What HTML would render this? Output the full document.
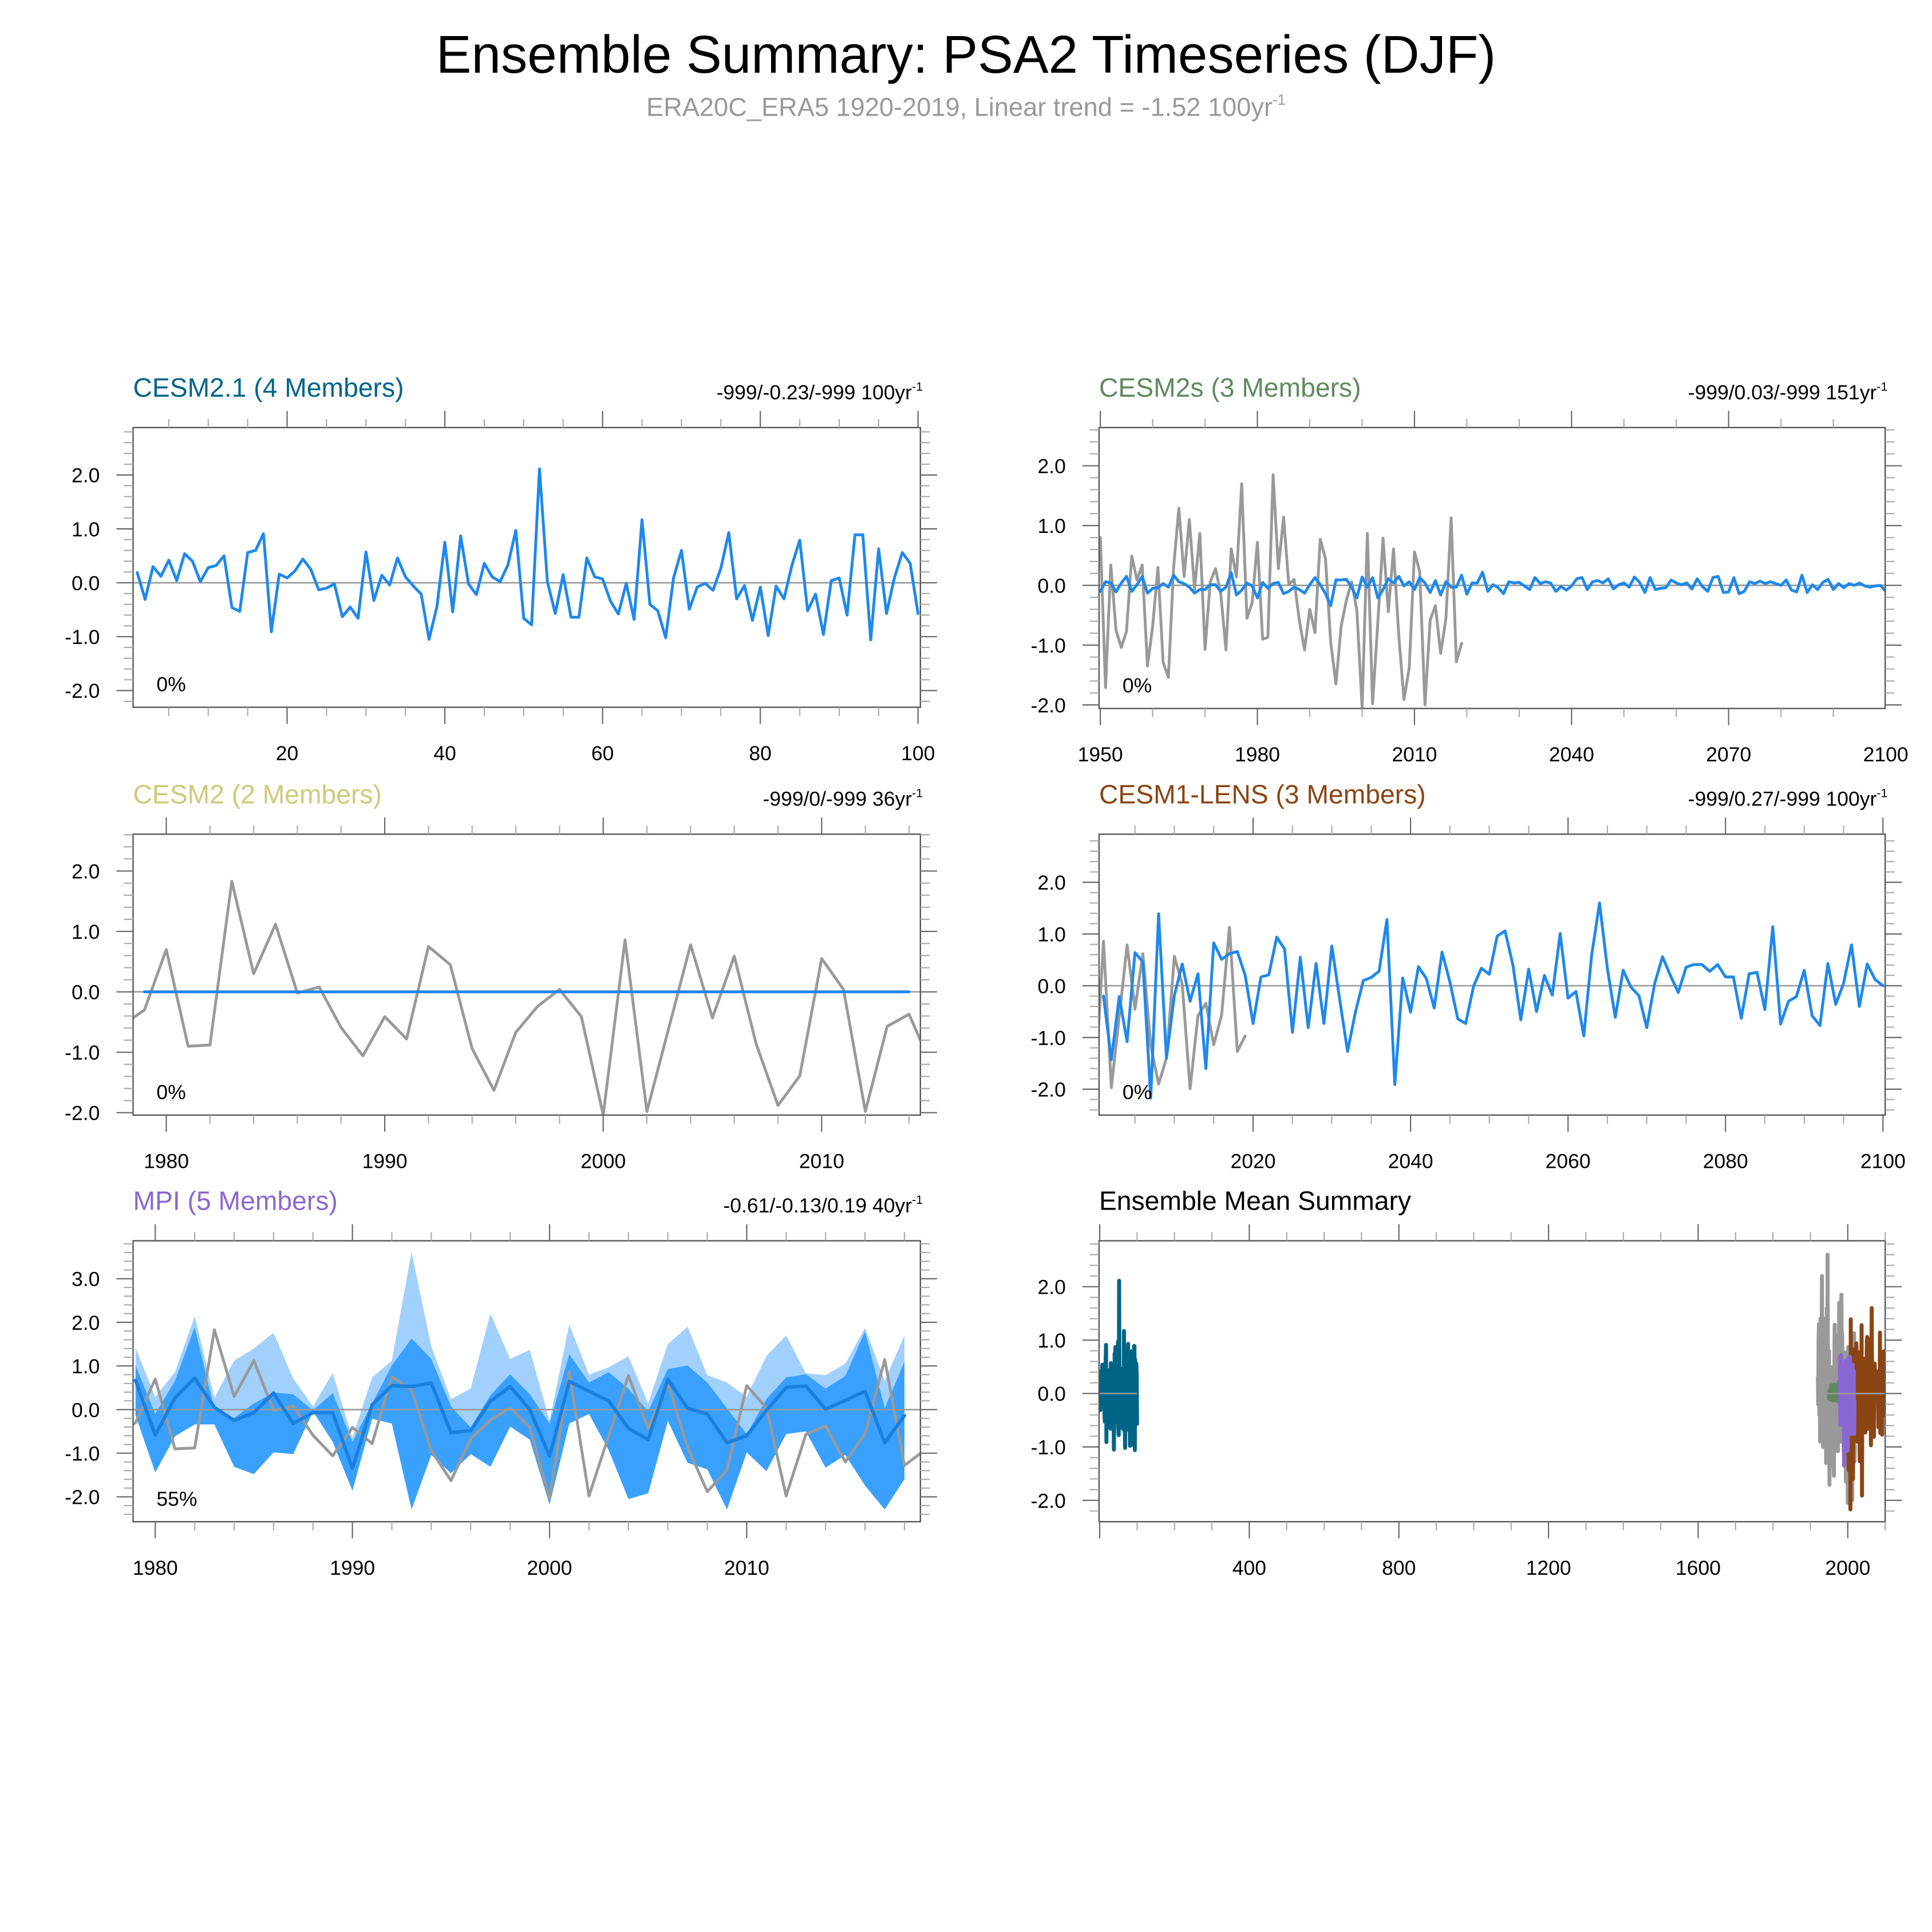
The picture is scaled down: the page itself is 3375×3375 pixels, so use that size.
<!DOCTYPE html>
<html><head><meta charset="utf-8">
<style>
html,body{margin:0;padding:0;background:#fff;}
svg{display:block;font-family:"Liberation Sans",Arial,sans-serif;}
</style></head>
<body>
<svg id="chart" xmlns="http://www.w3.org/2000/svg" width="3375" height="3375" viewBox="0 0 1568 1568">
<rect x="0" y="0" width="1568" height="1568" fill="#fff"/>
<text x="784" y="59" font-size="43" text-anchor="middle" fill="#000">Ensemble Summary: PSA2 Timeseries (DJF)</text>
<text x="784" y="94" font-size="21" text-anchor="middle" fill="#999">ERA20C_ERA5 1920-2019, Linear trend = -1.52 100yr<tspan dy="-9" font-size="12">-1</tspan></text>
</svg>
<script>
// ---------- DATA ----------
const cesm21Start = 1;
const cesm21Mean = [0.19,-0.31,0.30,0.12,0.42,0.04,0.54,0.40,0.02,0.28,0.32,0.50,-0.46,-0.53,0.56,0.60,0.91,-0.91,0.16,0.09,0.22,0.44,0.25,-0.13,-0.10,-0.02,-0.63,-0.45,-0.66,0.57,-0.33,0.14,-0.04,0.46,0.11,-0.06,-0.21,-1.05,-0.44,0.75,-0.54,0.87,-0.02,-0.22,0.36,0.11,0.02,0.33,0.97,-0.66,-0.78,2.11,0.02,-0.57,0.15,-0.64,-0.64,0.46,0.11,0.07,-0.34,-0.58,-0.01,-0.68,1.17,-0.40,-0.52,-1.02,0.09,0.60,-0.49,-0.08,-0.01,-0.14,0.27,0.93,-0.30,-0.05,-0.70,-0.08,-0.98,-0.06,-0.30,0.32,0.79,-0.52,-0.21,-0.96,0.04,0.09,-0.60,0.89,0.89,-1.06,0.63,-0.57,0.09,0.56,0.36,-0.57];

const obsEarlyStart = 1920;
const obsEarly = [0.3,-0.2,1.0,1.3,-0.4,0.6,-0.9,1.4,0.2,-0.6,0.9,2.2,-0.3,1.1,-1.0,0.5,1.4,-0.7,0.4,1.0,-0.2,0.8,-1.3,0.3,1.6,-0.5,2.6,0.1,-0.8,0.7];
const obs1950Start = 1950;
const obs1950 = [0.80,-1.71,0.34,-0.75,-1.04,-0.77,0.49,0.09,0.34,-1.35,-0.68,0.30,-1.29,-1.54,0.30,1.29,0.15,1.10,-0.07,0.87,-1.07,0.06,0.28,-0.14,-1.08,0.61,0.14,1.70,-0.55,-0.29,0.72,-0.90,-0.87,1.85,0.28,1.14,0.01,0.10,-0.58,-1.08,-0.40,-0.79,0.77,0.45,-0.95,-1.65,-0.68,-0.25,0.06,-0.42,-2.05,0.87,-1.98,-0.62,0.79,-0.44,0.61,-0.84,-1.91,-1.38,0.56,0.23,-2.00,-0.58,-0.34,-1.14,-0.56,1.13,-1.28,-0.97];

const cesm2sStart = 1950;
const cesm2sMean = [-0.10,0.06,0.04,-0.11,0.04,0.15,-0.10,0.01,0.15,-0.13,-0.05,-0.04,0.03,-0.03,0.17,0.06,0.03,-0.03,-0.13,-0.07,-0.07,0.01,0.01,-0.10,-0.03,0.21,-0.16,-0.08,0.04,-0.01,-0.21,0.05,-0.05,0.03,0.05,-0.14,-0.10,-0.03,-0.07,-0.13,0.01,0.13,0.01,-0.14,-0.34,0.09,0.09,0.10,-0.03,-0.21,0.14,-0.03,0.13,-0.21,-0.07,0.11,0.04,0.15,-0.01,0.06,-0.07,0.13,0.04,-0.12,0.08,-0.16,0.06,-0.03,-0.03,0.17,-0.15,0.04,0.04,0.22,-0.10,0.01,-0.04,-0.14,0.06,0.04,0.05,-0.01,-0.07,0.13,0.03,0.06,0.04,-0.10,-0.02,-0.08,-0.01,0.11,0.13,-0.07,0.06,0.08,0.04,0.11,-0.06,0.01,0.04,-0.03,0.14,0.05,-0.12,0.13,-0.07,-0.05,-0.04,0.09,0.04,0.01,0.04,-0.06,0.11,-0.02,-0.10,0.13,0.15,-0.12,-0.11,0.13,-0.14,-0.10,0.06,0.03,0.07,0.03,0.06,0.03,0.00,0.09,-0.08,-0.11,0.17,-0.12,0.01,-0.07,0.05,0.10,-0.07,0.03,-0.04,0.03,0.00,0.04,-0.01,-0.03,-0.01,0.00,-0.10];

const obs78Start = 1978;
const obs78 = [-0.55,-0.30,0.70,-0.90,-0.88,1.83,0.30,1.12,-0.02,0.08,-0.59,-1.06,-0.41,-0.78,0.75,0.45,-0.94,-1.63,-0.67,-0.24,0.04,-0.41,-2.04,0.86,-1.98,-0.60,0.78,-0.43,0.59,-0.86,-1.88,-1.39,0.55,0.04,-1.98,-0.57,-0.37,-1.20,-0.56,1.15,-1.28,-0.94];
const cesm2Start = 1979;
const cesm2Mean = [0,0,0,0,0,0,0,0,0,0,0,0,0,0,0,0,0,0,0,0,0,0,0,0,0,0,0,0,0,0,0,0,0,0,0,0];

const lensObsStart = 2000;
const lensObs = [-1.79,0.86,-1.97,-0.60,0.79,-0.45,0.62,-1.16,-1.90,-1.40,0.57,0.03,-1.99,-0.58,-0.34,-1.14,-0.57,1.13,-1.27,-0.97];
const lensStart = 2001;
const lensMean = [-0.20,-1.43,-0.21,-1.08,0.64,0.46,-2.17,1.39,-1.40,-0.19,0.42,-0.30,0.23,-1.60,0.83,0.51,0.62,0.66,0.20,-0.73,0.17,0.21,0.94,0.71,-0.90,0.55,-0.81,0.43,-0.73,0.77,-0.27,-1.27,-0.51,0.10,0.16,0.28,1.28,-1.91,0.15,-0.51,0.37,0.14,-0.43,0.65,0.07,-0.64,-0.73,-0.01,0.34,0.22,0.96,1.06,0.40,-0.66,0.32,-0.50,0.20,-0.18,1.01,-0.24,-0.11,-0.97,0.59,1.60,0.33,-0.61,0.30,-0.03,-0.19,-0.81,0.04,0.56,0.20,-0.13,0.36,0.41,0.41,0.28,0.41,0.17,0.17,-0.63,0.23,0.26,-0.46,1.14,-0.74,-0.30,-0.21,0.30,-0.58,-0.77,0.43,-0.36,0.05,0.79,-0.40,0.42,0.12,0.00];

const mpiStart = 1979;
const mpiMean = [0.67,-0.59,0.27,0.72,0.05,-0.25,-0.07,0.38,-0.32,-0.07,-0.07,-1.35,0.11,0.55,0.53,0.61,-0.53,-0.48,0.19,0.53,0.00,-1.07,0.65,0.42,0.20,-0.43,-0.69,0.69,0.03,-0.10,-0.76,-0.60,-0.02,0.51,0.54,0.01,0.21,0.42,-0.76,-0.14];
const mpiMax = [1.42,0.29,0.86,2.14,0.27,1.12,1.40,1.76,0.71,0.07,0.84,-0.65,0.74,1.12,3.61,1.45,0.24,0.48,2.20,1.16,1.37,-0.26,1.95,0.80,0.97,1.22,0.14,1.50,1.90,0.79,0.62,0.29,1.23,1.70,0.83,0.79,1.05,1.87,0.66,1.70];
const mpiInnerHi = [1.01,-0.10,0.66,1.89,0.00,-0.19,0.14,0.39,0.35,-0.02,0.38,-0.74,0.14,1.01,1.63,1.16,0.07,-0.41,0.33,0.81,0.35,-0.32,1.27,0.62,0.86,0.48,-0.04,0.93,1.01,0.62,0.03,-0.56,0.24,0.74,0.81,0.48,0.77,1.79,0.03,1.10];
const mpiInnerLo = [-0.13,-1.44,-0.61,-0.34,-0.34,-1.31,-1.48,-0.98,-1.02,-0.04,-0.74,-1.86,-0.21,-0.32,-2.29,-1.04,-1.46,-1.02,-1.31,-0.39,-0.69,-2.18,-0.32,-0.10,-0.93,-2.05,-1.92,-0.26,-1.22,-1.37,-2.29,-0.98,-1.41,-0.56,-0.50,-1.33,-1.04,-1.74,-2.29,-1.59];
const mpiMin = [-0.13,-1.44,-0.61,-0.34,-0.34,-1.31,-1.48,-0.98,-1.02,-0.04,-0.74,-1.86,-0.21,-0.32,-2.29,-1.04,-1.46,-1.02,-1.31,-0.39,-0.69,-2.18,-0.32,-0.10,-0.93,-2.05,-1.92,-0.26,-1.22,-1.37,-2.29,-0.98,-1.41,-0.56,-0.50,-1.33,-1.04,-1.74,-2.29,-1.59];

const yTicks1 = [2,1,0,-1,-2];
const yTicks5 = [3,2,1,0,-1,-2];
const yTickLabels1 = ["2.0","1.0","0.0","-1.0","-2.0"];
const yTickLabels5 = ["3.0","2.0","1.0","0.0","-1.0","-2.0"];
const xTicksP1 = [20,40,60,80,100];
const xTicksP2 = [1950,1980,2010,2040,2070,2100];
const xTicksP3 = [1980,1990,2000,2010];
const xTicksP4 = [2020,2040,2060,2080,2100];
const xTicksP5 = [1980,1990,2000,2010];
const xTicksP6 = [400,800,1200,1600,2000];

// ---------- RENDER ----------
const NS = "http://www.w3.org/2000/svg";
const svg = document.getElementById("chart");
function mk(tag, attrs, parent){
  const e = document.createElementNS(NS, tag);
  for (const k in attrs) e.setAttribute(k, attrs[k]);
  (parent || svg).appendChild(e);
  return e;
}

const panels = {
  p1:{x0:108,x1:747,y0:347,y1:574,xd:[0.47,100.3],yd:[-2.31,2.88],xMinor:5,xMaj:xTicksP1,yT:yTicks1,yL:yTickLabels1},
  p2:{x0:892,x1:1530,y0:347,y1:575,xd:[1949.76,2099.9],yd:[-2.06,2.64],xMinor:10,xMaj:xTicksP2,yT:yTicks1,yL:yTickLabels1},
  p3:{x0:108,x1:747,y0:677,y1:905,xd:[1978.48,2014.52],yd:[-2.04,2.61],xMinor:2,xMaj:xTicksP3,yT:yTicks1,yL:yTickLabels1},
  p4:{x0:892,x1:1530,y0:677,y1:905,xd:[2000.44,2100.28],yd:[-2.5,2.93],xMinor:5,xMaj:xTicksP4,yT:yTicks1,yL:yTickLabels1},
  p5:{x0:108,x1:747,y0:1007,y1:1235,xd:[1978.875,2018.81],yd:[-2.57,3.87],xMinor:2,xMaj:xTicksP5,yT:yTicks5,yL:yTickLabels5},
  p6:{x0:892,x1:1530,y0:1007,y1:1235,xd:[-1.6,2100],yd:[-2.4,2.86],xMinor:100,xMaj:xTicksP6,yT:yTicks1,yL:yTickLabels1}
};
function sx(p,v){ return p.x0 + (v-p.xd[0])/(p.xd[1]-p.xd[0])*(p.x1-p.x0); }
function sy(p,v){ return p.y1 - (v-p.yd[0])/(p.yd[1]-p.yd[0])*(p.y1-p.y0); }

const defs = mk("defs",{});



function setupPanel(key){
  const p = panels[key];
  const g = mk("g",{});
  
  
  p.g = g;
  const cp = mk("clipPath",{id:"clip-"+key}, defs);
  
  
  const cr = mk("rect",{x:p.x0,y:p.y0,width:p.x1-p.x0,height:p.y1-p.y0}, cp);
  
  
  const data = mk("g",{"clip-path":"url(#clip-"+key+")"}, g);
  
  
  p.data = data;
  return p;
}
function zeroLine(p, xa, xb){
  const a = (xa===undefined)?p.x0:sx(p,xa);
  const b = (xb===undefined)?p.x1:sx(p,xb);
  const l = mk("line",{x1:a,x2:b,y1:sy(p,0),y2:sy(p,0),stroke:"#999","stroke-width":1.2}, p.data);
  
  
}
function series(p, start, vals, color, w, name){
  const pts = vals.map((v,i)=> sx(p,start+i).toFixed(2)+","+sy(p,v).toFixed(2)).join(" ");
  const l = mk("polyline",{points:pts,fill:"none",stroke:color,"stroke-width":w,"stroke-linejoin":"round","stroke-linecap":"round"}, p.data);
  
  
}
function band(p, start, hi, lo, color, name){
  const up = hi.map((v,i)=> sx(p,start+i).toFixed(2)+","+sy(p,v).toFixed(2));
  const dn = lo.map((v,i)=> sx(p,start+i).toFixed(2)+","+sy(p,v).toFixed(2)).reverse();
  const pg = mk("polygon",{points:up.concat(dn).join(" "),fill:color,stroke:"none"}, p.data);
  
  
}
function axes(p){
  const g = p.g;
  const frame = mk("rect",{x:p.x0,y:p.y0,width:p.x1-p.x0,height:p.y1-p.y0,fill:"none",stroke:"#555","stroke-width":1.1}, g);
  
  
  const step = p.xMaj[1]-p.xMaj[0];
  const first = Math.ceil(p.xd[0]/p.xMinor)*p.xMinor;
  for (let v=first; v<=p.xd[1]+1e-6; v+=p.xMinor){
    const X = sx(p,v);
    const isMaj = (Math.round(v)%step===0);
    const len = isMaj?13.5:7;
    const col = isMaj?"#666":"#aaa";
    const t1 = mk("line",{x1:X,x2:X,y1:p.y1,y2:p.y1+len,stroke:col,"stroke-width":1}, g);
    
    
    const t2 = mk("line",{x1:X,x2:X,y1:p.y0,y2:p.y0-len,stroke:col,"stroke-width":1}, g);
    
    
  }
  p.xMaj.forEach(v=>{
    const t = mk("text",{x:sx(p,v),y:p.y1+43,"font-size":16.5,"text-anchor":"middle",fill:"#000"}, g);
    t.textContent = String(v);
    
    
  });
  const f = Math.ceil(p.yd[0]/0.2);
  for (let k=f; k*0.2<=p.yd[1]; k++){
    const v = k*0.2;
    const Y = sy(p,v);
    const isMaj = (k%5===0);
    const len = isMaj?13.5:7.5;
    const col = isMaj?"#666":"#aaa";
    const a = mk("line",{x1:p.x0,x2:p.x0-len,y1:Y,y2:Y,stroke:col,"stroke-width":1}, g);
    
    
    const b = mk("line",{x1:p.x1,x2:p.x1+len,y1:Y,y2:Y,stroke:col,"stroke-width":1}, g);
    
    
  }
  p.yT.forEach((v,i)=>{
    const t = mk("text",{x:p.x0-27,y:sy(p,v)+6,"font-size":16.5,"text-anchor":"end",fill:"#000"}, g);
    t.textContent = p.yL[i];
    
    
  });
}
function titles(p, left, color, right, pct){
  const t = mk("text",{x:p.x0,y:p.y0-25,"font-size":21.5,fill:color}, p.g);
  t.textContent = left;
  
  
  if (right){
    const r = mk("text",{x:p.x1+2,y:p.y0-23,"font-size":16.5,"text-anchor":"end",fill:"#000"}, p.g);
    
    
    const s1 = mk("tspan",{}, r);
    s1.textContent = right;
    
    
    const s2 = mk("tspan",{dy:-7,"font-size":10}, r);
    s2.textContent = "-1";
    
    
  }
  if (pct){
    const q = mk("text",{x:p.x0+19,y:p.y1-13,"font-size":16.5,fill:"#000"}, p.g);
    q.textContent = pct;
    
    
  }
}

const BLUE="#1e88ec", GRAY="#999999";
let p = setupPanel("p1");
zeroLine(p);
series(p, cesm21Start, cesm21Mean, BLUE, 2.3, "cesm21-mean-line");
axes(p); titles(p,"CESM2.1 (4 Members)","#006487","-999/-0.23/-999 100yr","0%");

p = setupPanel("p2");
zeroLine(p);
series(p, obs1950Start, obs1950, GRAY, 2.3, "obs-line");
series(p, cesm2sStart, cesm2sMean, BLUE, 2.3, "cesm2s-mean-line");
axes(p); titles(p,"CESM2s (3 Members)","#5f8a5f","-999/0.03/-999 151yr","0%");

p = setupPanel("p3");
zeroLine(p);
series(p, obs78Start, obs78, GRAY, 2.3, "obs-line");
series(p, cesm2Start, cesm2Mean, BLUE, 2.3, "cesm2-mean-line");
axes(p); titles(p,"CESM2 (2 Members)","#cfc97a","-999/0/-999 36yr","0%");

p = setupPanel("p4");
zeroLine(p);
series(p, lensObsStart, lensObs, GRAY, 2.3, "obs-line");
series(p, lensStart, lensMean, BLUE, 2.3, "cesm1-lens-mean-line");
axes(p); titles(p,"CESM1-LENS (3 Members)","#8b4513","-999/0.27/-999 100yr","0%");

p = setupPanel("p5");
band(p, mpiStart, mpiMax, mpiMin, "#a2d0fd", "mpi-range-band");
band(p, mpiStart, mpiInnerHi, mpiInnerLo, "#39a1fd", "mpi-inner-band");
zeroLine(p);
series(p, obs78Start, obs78, GRAY, 2.3, "obs-line");
series(p, mpiStart, mpiMean, "#1a80e0", 2.8, "mpi-mean-line");
axes(p); titles(p,"MPI (5 Members)","#8a67d0","-0.61/-0.13/0.19 40yr","55%");

p = setupPanel("p6");
series(p, obsEarlyStart, obsEarly.concat(obs1950), GRAY, 3.2, "summary-obs-line");
series(p, cesm21Start, cesm21Mean, "#006487", 3.2, "summary-cesm21-line");
series(p, cesm2sStart, cesm2sMean, "#5f8a5f", 3.2, "summary-cesm2s-line");
series(p, cesm2Start, cesm2Mean, "#cfc97a", 3.2, "summary-cesm2-line");
series(p, lensStart, lensMean, "#8b4513", 3.2, "summary-cesm1-lens-line");
series(p, mpiStart, mpiMean, "#8a67d0", 3.2, "summary-mpi-line");
zeroLine(p, cesm21Start, cesm21Start+cesm21Mean.length-1);
zeroLine(p, obsEarlyStart, 2100);
axes(p); titles(p,"Ensemble Mean Summary","#000",null,null);
</script>
</body></html>
